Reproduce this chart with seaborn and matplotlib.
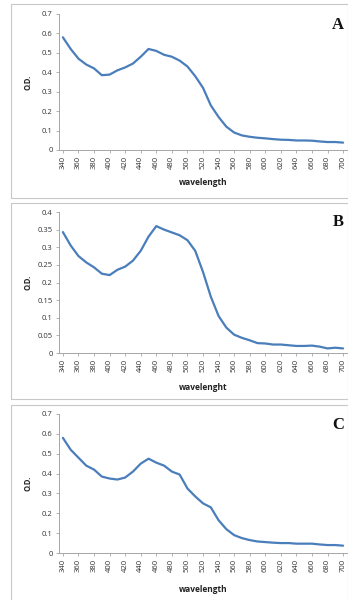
import numpy as np
import pandas as pd
import matplotlib
matplotlib.use("Agg")
import matplotlib.pyplot as plt
from matplotlib.patches import Rectangle
import seaborn as sns

wavelength = list(range(340, 701, 10))
od_a = [0.58, 0.52, 0.47, 0.44, 0.42, 0.385, 0.388, 0.41, 0.425, 0.445, 0.48, 0.52,
        0.51, 0.49, 0.48, 0.46, 0.43, 0.38, 0.32, 0.23, 0.17, 0.12, 0.09, 0.075,
        0.068, 0.063, 0.06, 0.056, 0.053, 0.052, 0.049, 0.049, 0.048, 0.044,
        0.041, 0.041, 0.038]
od_b = [0.343, 0.305, 0.275, 0.257, 0.243, 0.225, 0.221, 0.236, 0.245, 0.262, 0.29,
        0.33, 0.36, 0.35, 0.342, 0.334, 0.32, 0.29, 0.23, 0.16, 0.105, 0.072, 0.052,
        0.043, 0.036, 0.028, 0.027, 0.024, 0.024, 0.022, 0.02, 0.02, 0.021, 0.018,
        0.013, 0.015, 0.013]
od_c = [0.58, 0.52, 0.48, 0.44, 0.42, 0.385, 0.375, 0.37, 0.38, 0.41, 0.45, 0.475,
        0.455, 0.44, 0.41, 0.395, 0.325, 0.285, 0.25, 0.23, 0.165, 0.12, 0.09,
        0.075, 0.065, 0.058, 0.055, 0.052, 0.05, 0.05, 0.047, 0.047, 0.047, 0.043,
        0.04, 0.04, 0.037]
panel_letters = ["A", "B", "C"]
x_labels = ["wavelength", "wavelenght", "wavelength"]
y_label = "O.D."
y_ticks = [[0, 0.1, 0.2, 0.3, 0.4, 0.5, 0.6, 0.7],
           [0, 0.05, 0.1, 0.15, 0.2, 0.25, 0.3, 0.35, 0.4],
           [0, 0.1, 0.2, 0.3, 0.4, 0.5, 0.6, 0.7]]
y_tick_labels = [["0", "0.1", "0.2", "0.3", "0.4", "0.5", "0.6", "0.7"],
                 ["0", "0.05", "0.1", "0.15", "0.2", "0.25", "0.3", "0.35", "0.4"],
                 ["0", "0.1", "0.2", "0.3", "0.4", "0.5", "0.6", "0.7"]]
x_ticks = list(range(340, 701, 20))

sns.set_style("white")
plt.rcParams['font.family'] = ['Open Sans', 'DejaVu Sans']

W, H = 348, 600
fig = plt.figure(figsize=(W / 100, H / 100), dpi=100)
fig.patch.set_facecolor("white")

def fx(px):
    return px / W

def fy(py):
    return 1 - py / H

# (frame top, frame bottom, axes top, axes bottom) in pixels
layout = [(4, 198, 14, 150), (203, 399, 212, 353), (405, 610, 414, 553)]
series = [od_a, od_b, od_c]
color = "#4A7EBB"
grey = "#A6A6A6"

for i, (ft, fb, at, ab) in enumerate(layout):
    fig.patches.append(Rectangle((fx(11), fy(fb)), fx(348 - 11), (fb - ft) / H,
                                 transform=fig.transFigure, fill=False,
                                 edgecolor="#C8C8C8", linewidth=0.8, zorder=0))
    ax = fig.add_axes([fx(59), fy(ab), fx(347) - fx(59), (ab - at) / H])
    df = pd.DataFrame({"wavelength": wavelength, "od": series[i]})
    sns.lineplot(data=df, x="wavelength", y="od", ax=ax, color=color, linewidth=1.6)
    ax.set_xlim(335, 705)
    ax.set_ylim(y_ticks[i][0], y_ticks[i][-1])
    ax.set_yticks(y_ticks[i])
    ax.set_yticklabels(y_tick_labels[i], fontsize=5.5, color="#333333")
    ax.set_xticks(x_ticks)
    ax.set_xticklabels([str(v) for v in x_ticks], rotation=90, fontsize=5.5,
                       color="#333333")
    ax.tick_params(axis="both", length=2.5, width=0.6, color=grey, pad=2, direction="out")
    ax.tick_params(axis="x", bottom=True)
    ax.tick_params(axis="y", left=True)
    for s in ["top", "right"]:
        ax.spines[s].set_visible(False)
    for s in ["left", "bottom"]:
        ax.spines[s].set_color(grey)
        ax.spines[s].set_linewidth(0.7)
    ax.set_xlabel("")
    ax.set_ylabel("")
    ax.patch.set_alpha(0)
    fig.text(fx(28), fy((at + ab) / 2), y_label, rotation=90, fontsize=5.5,
             fontweight="bold", ha="center", va="center", color="#222222")
    xl_y = [183, 388, 590][i]
    fig.text(fx(203), fy(xl_y), x_labels[i], fontsize=6, fontweight="bold",
             ha="center", va="center", color="#222222")
    ly = [25, 222, 425][i]
    fig.text(fx(338), fy(ly), panel_letters[i], fontsize=12, fontweight="bold",
             family="Liberation Serif", ha="center", va="center", color="#111111")

fig.savefig("out.png", dpi=100)
